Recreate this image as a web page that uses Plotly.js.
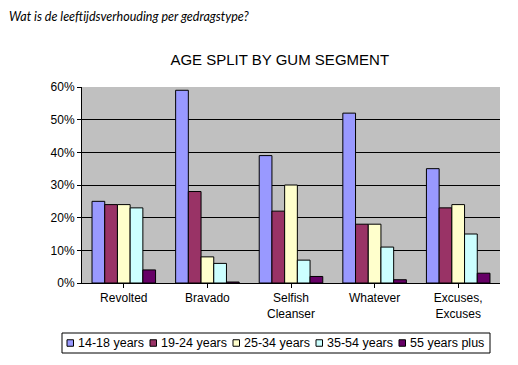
<!DOCTYPE html>
<html><head><meta charset="utf-8">
<script src="https://cdn.plot.ly/plotly-3.0.1.min.js"></script>
<style>html,body{margin:0;padding:0;background:#fff}#c{width:518px;height:365px}</style>
</head><body><div id="c"></div>
<script>
const categories = ["Revolted", "Bravado", "Selfish<br>Cleanser", "Whatever", "Excuses,<br>Excuses"];
const seriesNames = ["14-18 years", "19-24 years", "25-34 years", "35-54 years", "55 years plus"];
const age14_18 = [0.25, 0.59, 0.39, 0.52, 0.35];
const age19_24 = [0.24, 0.28, 0.22, 0.18, 0.23];
const age25_34 = [0.24, 0.08, 0.30, 0.18, 0.24];
const age35_54 = [0.23, 0.06, 0.07, 0.11, 0.15];
const age55plus = [0.04, 0.003, 0.02, 0.01, 0.03];
const colors = ["#9999FF", "#993366", "#FFFFCC", "#CCFFFF", "#660066"];
const seriesValues = [age14_18, age19_24, age25_34, age35_54, age55plus];

const W = 518, H = 365, ML = 82, MR = 18, MT = 87, MB = 82;
const pw = W - ML - MR, ph = H - MT - MB;
const px2x = p => (p - ML) / pw;
const px2y = p => (H - MB - p) / ph;

const traces = seriesValues.map((vals, i) => ({
  type: "bar", x: categories, y: vals, name: seriesNames[i],
  marker: {color: colors[i], line: {color: "#000", width: 1}},
  hoverinfo: "none", showlegend: false
}));

// custom legend (one row, boxed)
const legTop = 333, legBot = 353, legLeft = 62, legRight = 490;
const legMid = (legTop + legBot) / 2;
const shapes = [{type: "rect", xref: "paper", yref: "paper", x0: px2x(legLeft), x1: px2x(legRight), y0: px2y(legBot), y1: px2y(legTop), line: {color: "#000", width: 1}, fillcolor: "#fff"}];
const annotations = [{text: "<i>Wat is de leeftijdsverhouding per gedragstype?</i>", xref: "paper", yref: "paper", x: px2x(7), y: px2y(17), xanchor: "left", yanchor: "middle", showarrow: false, font: {family: "Lato, DejaVu Sans, sans-serif", size: 12.5, color: "#000"}}];
seriesNames.forEach((name, i) => {
  const sx = 67 + i * 83;
  shapes.push({type: "rect", xref: "paper", yref: "paper", x0: px2x(sx), x1: px2x(sx + 6.5), y0: px2y(legMid + 3.25), y1: px2y(legMid - 3.25), line: {color: "#000", width: 1}, fillcolor: colors[i]});
  annotations.push({text: name, xref: "paper", yref: "paper", x: px2x(sx + 8.5), y: px2y(legMid), xanchor: "left", yanchor: "middle", showarrow: false, font: {size: 12.5, color: "#000"}});
});

const layout = {
  width: W, height: H,
  margin: {l: ML, r: MR, t: MT, b: MB},
  paper_bgcolor: "#fff", plot_bgcolor: "#C0C0C0",
  font: {family: "Liberation Sans, Arial, sans-serif", size: 12, color: "#000"},
  title: {text: "AGE SPLIT BY GUM SEGMENT", font: {size: 15, family: "Liberation Sans, Arial, sans-serif"}, x: 0.54, xanchor: "center", y: 0.835, yanchor: "middle"},
  barmode: "group", bargap: 0.24, bargroupgap: 0,
  xaxis: {showgrid: false, ticks: "outside", ticklen: 4, tickcolor: "#000", showline: true, linecolor: "#000", linewidth: 1, tickfont: {size: 12}, fixedrange: true},
  yaxis: {range: [0, 0.6], dtick: 0.1, tickformat: ".0%", showgrid: true, gridcolor: "#000", gridwidth: 1, ticks: "outside", ticklen: 4, tickcolor: "#000", showline: true, linecolor: "#000", linewidth: 1, zeroline: false, tickfont: {size: 12}, fixedrange: true},
  showlegend: false,
  shapes: shapes,
  annotations: annotations
};
Plotly.newPlot("c", traces, layout, {staticPlot: true, displayModeBar: false});
</script></body></html>
